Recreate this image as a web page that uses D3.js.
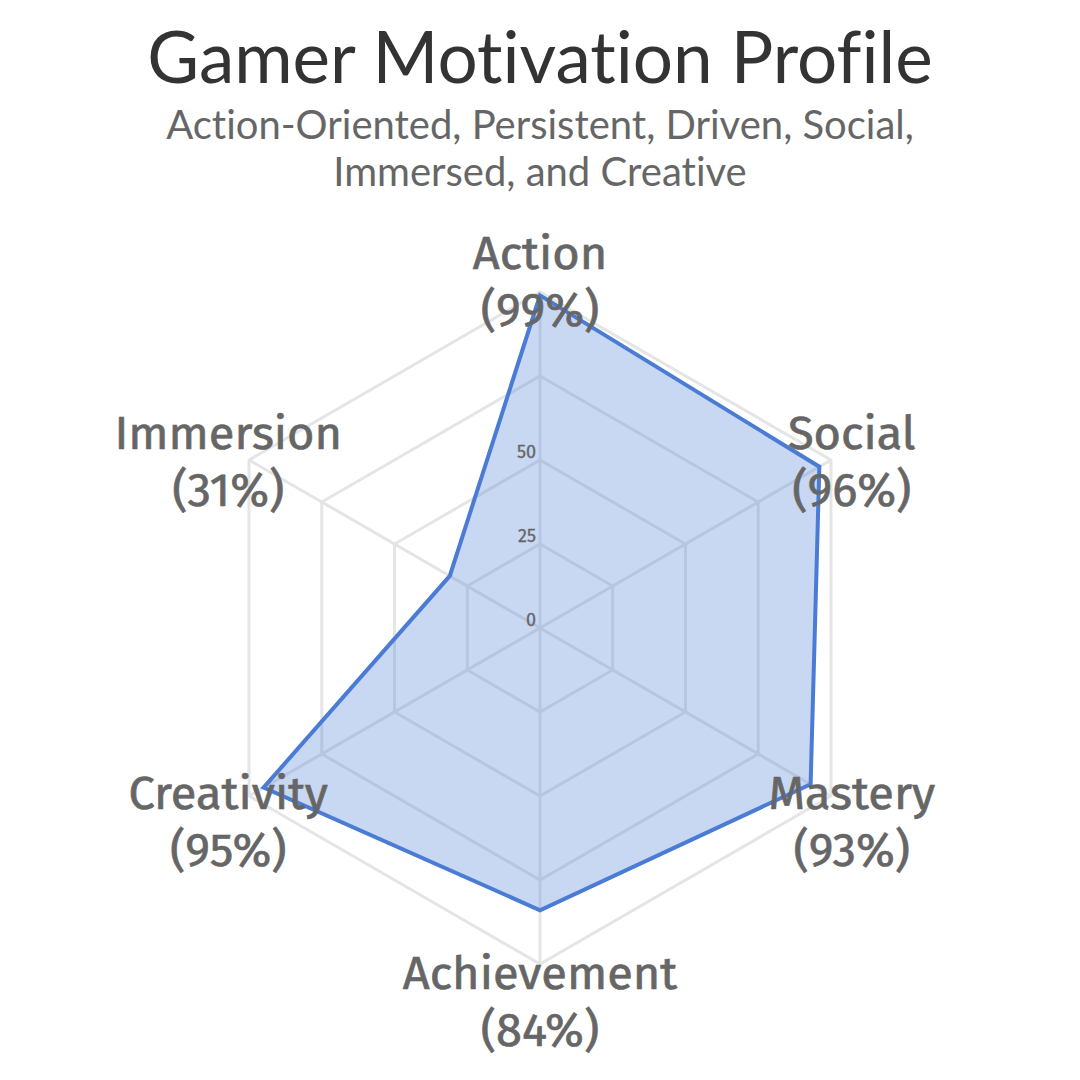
<!DOCTYPE html>
<html>
<head>
<meta charset="utf-8">
<script src="https://cdn.jsdelivr.net/npm/d3@7"></script>
<style>
  body { margin: 0; background: #fff; }
  svg { display: block; }
  text { font-variant-ligatures: none; }
</style>
</head>
<body>
<div class="radar-holder"></div>
<script>
var categories = ["Action", "Social", "Mastery", "Achievement", "Creativity", "Immersion"];
var scores = [99, 96, 93, 84, 95, 31];
var gridLevels = [25, 50, 75, 100];
var tickLabels = [0, 25, 50];
var titleText = "Gamer Motivation Profile";
var subtitleLines = ["Action-Oriented, Persistent, Driven, Social,", "Immersed, and Creative"];

var width = 1080, height = 1080;
var cx = 540, cy = 628, outer = 336;
var labelFont = "'Fira Sans', 'Noto Sans', sans-serif";

var svg = d3.select(".radar-holder")
  .append("svg")
  .attr("width", width)
  .attr("height", height);

// title + subtitle
svg.append("text")
  .attr("x", width / 2).attr("y", 83)
  .attr("text-anchor", "middle")
  .style("font-family", "Lato, sans-serif")
  .style("font-size", "71px")
  .style("fill", "#333")
  .text(titleText);

svg.selectAll(".subtitle")
  .data(subtitleLines)
  .enter().append("text")
  .attr("class", "subtitle")
  .attr("x", width / 2)
  .attr("y", function(d, i) { return 139 + i * 47; })
  .attr("text-anchor", "middle")
  .style("font-family", "Lato, sans-serif")
  .style("font-size", "40px")
  .style("fill", "#666")
  .text(function(d) { return d; });

var r = d3.scaleLinear().domain([0, 100]).range([0, outer]);
var angle = d3.scalePoint().domain(categories).range([0, 2 * Math.PI * 5 / 6]);

var grp = svg.append("g").attr("transform", "translate(" + cx + "," + cy + ")");

// grid hexagons
var ring = d3.lineRadial()
  .angle(function(d) { return angle(d); })
  .curve(d3.curveLinearClosed);

grp.append("g").attr("class", "grid")
  .selectAll("path")
  .data(gridLevels)
  .enter().append("path")
  .attr("d", function(lv) { return ring.radius(r(lv))(categories); })
  .style("fill", "none")
  .style("stroke", "#e5e5e5")
  .style("stroke-width", 3);

// spokes
grp.append("g").attr("class", "spokes")
  .selectAll("line")
  .data(categories)
  .enter().append("line")
  .attr("x1", 0).attr("y1", 0)
  .attr("x2", function(d) { return r(100) * Math.sin(angle(d)); })
  .attr("y2", function(d) { return -r(100) * Math.cos(angle(d)); })
  .style("stroke", "#e5e5e5")
  .style("stroke-width", 3);

// data polygon
var area = d3.lineRadial()
  .angle(function(d, i) { return angle(categories[i]); })
  .radius(function(d) { return r(d); })
  .curve(d3.curveLinearClosed);

grp.append("path")
  .datum(scores)
  .attr("d", area)
  .style("fill", "rgba(74,123,213,0.3)")
  .style("stroke", "#4a7bd5")
  .style("stroke-width", 4)
  .style("stroke-linejoin", "miter");

// tick labels
grp.append("g").attr("class", "ticks")
  .selectAll("text")
  .data(tickLabels)
  .enter().append("text")
  .attr("x", -4)
  .attr("y", function(d) { return -r(d) - 2; })
  .attr("text-anchor", "end")
  .style("font-family", labelFont)
  .style("font-size", "18px")
  .style("fill", "#666")
  .style("stroke", "#666")
  .style("stroke-width", 0.3)
  .text(function(d) { return d; });

// point labels
var labelR = 360;
var lbl = grp.append("g").attr("class", "point-labels")
  .selectAll("g")
  .data(categories)
  .enter().append("g")
  .attr("transform", function(d) {
    var a = angle(d);
    return "translate(" + (labelR * Math.sin(a)) + "," + (-labelR * Math.cos(a) + 13) + ")";
  });

lbl.append("text")
  .attr("y", -28)
  .attr("dy", "0.35em")
  .attr("text-anchor", "middle")
  .style("font-family", labelFont)
  .style("font-size", "47px")
  .style("fill", "#666")
  .style("stroke", "#666")
  .style("stroke-width", 0.7)
  .text(function(d) { return d; });

lbl.append("text")
  .attr("y", 29)
  .attr("dy", "0.35em")
  .attr("text-anchor", "middle")
  .style("font-family", labelFont)
  .style("font-size", "47px")
  .style("fill", "#666")
  .style("stroke", "#666")
  .style("stroke-width", 0.7)
  .text(function(d, i) { return "(" + scores[i] + "%)"; });
</script>
</body>
</html>
